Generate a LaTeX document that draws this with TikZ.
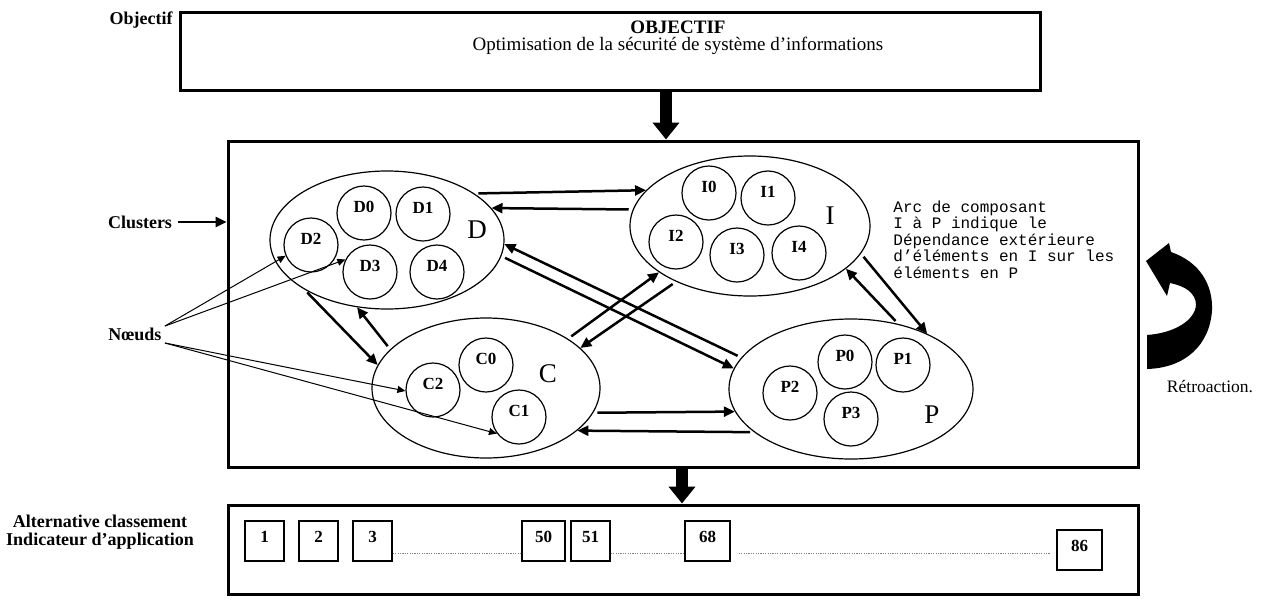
\documentclass[tikz,border=0pt]{standalone}
\usepackage{fontspec}
\setmainfont{Liberation Serif}
\newfontfamily\monof{Liberation Mono}
\usetikzlibrary{arrows.meta,shapes.geometric}
\begin{document}
\begin{tikzpicture}[x=0.5pt,y=-0.5pt,
  box/.style={draw,line width=1.5pt,inner sep=0pt},
  clus/.style={draw,ellipse,line width=0.6pt,inner sep=0pt},
  sub/.style={draw,circle,line width=0.6pt,minimum size=27pt,inner sep=0pt},
  sublab/.style={font=\bfseries\fontsize{8.5}{9}\selectfont,yshift=3pt},
  big/.style={font=\fontsize{13.5}{14}\selectfont,inner sep=0pt},
  lbl/.style={font=\bfseries\fontsize{9}{9}\selectfont,inner sep=0pt},
  conn/.style={line width=1.25pt,shorten <=2pt,-{Triangle[length=5.5pt,width=5pt]}},
  ptr/.style={line width=0.5pt,-{Triangle[length=4pt,width=3.5pt]}},
  fat/.style={line width=6pt,-{Triangle[length=8.5pt,width=13pt]}},
  num/.style={draw,line width=0.7pt,minimum height=20pt,inner sep=0pt},
  numlab/.style={font=\bfseries\fontsize{8.5}{9}\selectfont,yshift=2pt},
  dots/.style={draw=gray,line width=0.5pt,dash pattern=on 0.6pt off 0.6pt}
]
\useasboundingbox (0,0) rectangle (1266,606);

% ---------- boxes ----------
\node[box,minimum width=430pt,minimum height=39pt] (top) at (610,51) {};
\node[box,minimum width=455pt,minimum height=163pt] (main) at (683,304) {};
\node[box,minimum width=455pt,minimum height=44.5pt] (bot) at (683,549.5) {};

\node[font=\bfseries\fontsize{9.5}{10}\selectfont] (objt) at (678,27) {OBJECTIF};
\node[font=\fontsize{9.5}{10}\selectfont] (objs) at (678,46) {Optimisation de la sécurité de système d’informations};

% ---------- left labels ----------
\node[lbl,anchor=east] (objl) at (173,20) {Objectif};
\node[lbl] (clul) at (140,222) {Clusters};
\node[lbl] (nds) at (135,334) {Nœuds};
\node[lbl,align=center] (alt) at (100,532) {Alternative classement\\ Indicateur d’application};

% ---------- thick arrows ----------
\coordinate (ax1) at (666,0);
\coordinate (ax2) at (682,0);
\draw[fat] (top.south -| ax1) -- (main.north -| ax1);
\draw[fat] (main.south -| ax2) -- (bot.north -| ax2);

% ---------- clusters ----------
\node[clus,minimum width=117pt,minimum height=69pt] (D) at (387,240) {};
\node[clus,minimum width=120pt,minimum height=70pt] (I) at (750,226) {};
\node[clus,minimum width=114pt,minimum height=70pt] (C) at (486,388) {};
\node[clus,minimum width=122pt,minimum height=70pt] (P) at (851,389) {};

\node[big] (Dl) at (477,230) {D};
\node[big] (Il) at (830,216) {I};
\node[big] (Cl) at (548,374) {C};
\node[big] (Pl) at (932,415) {P};

\node[sub,label={[sublab]center:D0}] (D0) at (364,213) {};
\node[sub,label={[sublab]center:D1}] (D1) at (423,214) {};
\node[sub,label={[sublab]center:D2}] (D2) at (311,245) {};
\node[sub,label={[sublab]center:D3}] (D3) at (370,272) {};
\node[sub,label={[sublab]center:D4}] (D4) at (437,272) {};

\node[sub,label={[sublab]center:I0}] (I0) at (709,193) {};
\node[sub,label={[sublab]center:I1}] (I1) at (768,198) {};
\node[sub,label={[sublab]center:I2}] (I2) at (676,242) {};
\node[sub,label={[sublab]center:I3}] (I3) at (737,255) {};
\node[sub,label={[sublab]center:I4}] (I4) at (799,253) {};

\node[sub,label={[sublab]center:C0}] (C0) at (486,365) {};
\node[sub,label={[sublab]center:C2}] (C2) at (433,390) {};
\node[sub,label={[sublab]center:C1}] (C1) at (519,417) {};

\node[sub,label={[sublab]center:P0}] (P0) at (845,362) {};
\node[sub,label={[sublab]center:P1}] (P1) at (903,365) {};
\node[sub,label={[sublab]center:P2}] (P2) at (790,393) {};
\node[sub,label={[sublab]center:P3}] (P3) at (851,419) {};

% ---------- cluster connectors ----------
\draw[conn] (D.28) -- (I.161);
\draw[conn] (I.172) -- (D.17);
\draw[conn] (D.352) -- (P.170);
\draw[conn] (P.164) -- (D.358);
\draw[conn] (D.211) -- (C.168);
\draw[conn] (C.158) -- (D.246);
\draw[conn] (C.31) -- (I.207);
\draw[conn] (I.217) -- (C.23);
\draw[conn] (C.347) -- (P.191);
\draw[conn] (P.204) -- (C.335);
\draw[conn] (I.346) -- (P.36);
\draw[conn] (P.54) -- (I.336);

% ---------- annotation ----------
\node[anchor=north west,align=left,inner sep=0pt,font=\monof\fontsize{8}{8.3}\selectfont] (note) at (893,200)
  {Arc de composant\\I à P indique le\\Dépendance extérieure\\d’éléments en I sur les\\éléments en P};

% ---------- pointers ----------
\draw[conn,shorten <=0pt] (clul.east) ++(6,0) coordinate (cst) (cst) -- (cst -| main.west);
\coordinate (n1) at (165,326);
\coordinate (n2) at (165,343);
\draw[ptr] (n1) -- (D2.203);
\draw[ptr] (n1) -- (D3.153);
\draw[ptr] (n2) -- (C2.182);
\draw[ptr] (n2) -- (C1.217);

% ---------- feedback ----------
\fill (1146,261) -- (1169,243) -- (1171,252)
  .. controls (1200,262) and (1213,285) .. (1212,310)
  .. controls (1210,345) and (1185,368) .. (1147,369)
  -- (1147,335)
  .. controls (1175,333) and (1195,320) .. (1196,305)
  .. controls (1196,293) and (1185,286) .. (1170,283)
  -- (1167,296) -- cycle;
\node[font=\fontsize{8.75}{9}\selectfont] (retro) at (1210,387) {Rétroaction.};

% ---------- ranking boxes ----------
\node[num,minimum width=19.5pt,label={[numlab]center:1}] (b1) at (264.5,541) {};
\node[num,minimum width=19.5pt,label={[numlab]center:2}] (b2) at (318.5,541) {};
\node[num,minimum width=19.5pt,label={[numlab]center:3}] (b3) at (372.5,541) {};
\node[num,minimum width=21.5pt,label={[numlab]center:50}] (b50) at (543.5,541) {};
\node[num,minimum width=19.5pt,label={[numlab]center:51}] (b51) at (590.5,541) {};
\node[num,minimum width=22.5pt,label={[numlab]center:68}] (b68) at (707.5,541) {};
\node[num,minimum width=22.5pt,label={[numlab]center:86}] (b86) at (1079.5,550) {};

\draw[dots] ([yshift=4pt]b3.south east) -- ([yshift=4pt]b50.south west);
\draw[dots] ([yshift=4pt]b51.south east) -- ([yshift=4pt]b68.south west);
\draw[dots,shorten <=4pt,shorten >=3pt] ([yshift=4pt]b68.south east) -- ([yshift=4pt]b68.south east -| b86.west);
\end{tikzpicture}
\end{document}
